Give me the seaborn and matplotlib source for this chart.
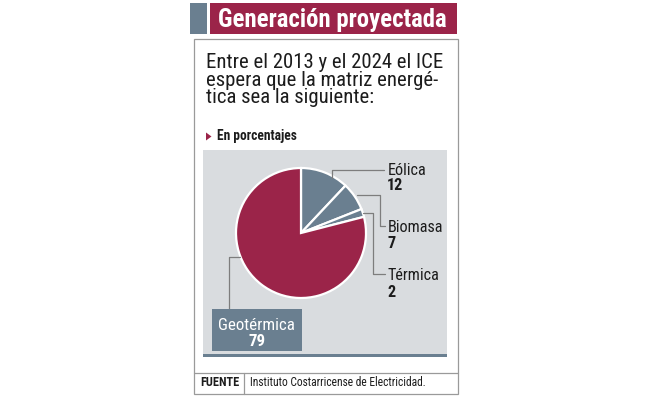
import matplotlib
matplotlib.use('Agg')
import matplotlib.pyplot as plt
import matplotlib.font_manager as fm
from matplotlib.patches import Rectangle, Polygon
import seaborn as sns

# datos del gráfico
categories = ['Eólica', 'Biomasa', 'Térmica', 'Geotérmica']
values = [12, 7, 2, 79]
title = 'Generación proyectada'
intro = ['Entre el 2013 y el 2024 el ICE',
         'espera que la matriz energé-',
         'tica sea la siguiente:']
unit_label = 'En porcentajes'
source_tag = 'FUENTE'
source = 'Instituto Costarricense de Electricidad.'

MAROON = '#9b2449'
SLATE = '#6a7f90'
PANEL = '#d9dcdf'
BORDER = '#9a9a9a'
LEADER = '#7d7d7d'
TEXT = '#1c1c1c'

sns.set_theme(style='white')
names = {f.name for f in fm.fontManager.ttflist}
narrow = next((n for n in ['Roboto Condensed', 'Liberation Sans Narrow', 'Roboto'] if n in names), 'DejaVu Sans')
plt.rcParams['font.family'] = [narrow, 'DejaVu Sans']

W, H = 653, 398
fig = plt.figure(figsize=(W / 100, H / 100), dpi=100)
ax = fig.add_axes([0, 0, 1, 1])
renderer = fig.canvas.get_renderer()


def Y(y):
    return H - y


def fit(t, width):
    w = t.get_window_extent(renderer).width
    t.set_fontsize(t.get_fontsize() * width / w)
    return t.get_fontsize()


# cabecera
ax.add_patch(Rectangle((190, Y(34)), 17, 31, color=SLATE, lw=0))
ax.add_patch(Rectangle((210, Y(34)), 247, 31, color=MAROON, lw=0))
t = ax.text(218, Y(27), title, color='white', fontweight='bold', fontsize=15, ha='left', va='baseline')
fit(t, 228)

# recuadro
ax.add_patch(Rectangle((194, Y(394)), 263.5, 355, fill=False, ec=BORDER, lw=0.9))
ax.plot([194, 457.5], [Y(373), Y(373)], color=BORDER, lw=0.9)
ax.plot([244, 244], [Y(373), Y(394)], color=BORDER, lw=0.9)

# texto de introducción
lines = []
for txt, base in zip(intro, [68, 85.7, 103.3]):
    lines.append(ax.text(206, Y(base), txt, color=TEXT, fontsize=13, ha='left', va='baseline'))
fs = fit(lines[0], 237)
for l in lines[1:]:
    l.set_fontsize(fs)

ax.add_patch(Polygon([(206, Y(132.5)), (206, Y(140.5)), (211.5, Y(136.5))], color=MAROON, lw=0))
t = ax.text(216.7, Y(140), unit_label, color=TEXT, fontweight='bold', fontsize=8, ha='left', va='baseline')
fit(t, 80)

# panel gris
ax.add_patch(Rectangle((203, Y(354)), 244, 204, color=PANEL, lw=0, zorder=0))
ax.add_patch(Rectangle((203, Y(357)), 244, 3, color=SLATE, lw=0, zorder=0))

# torta
colors = [SLATE, SLATE, SLATE, MAROON]
ax.pie(values, colors=colors, startangle=90, counterclock=False,
       center=(301, Y(233)), radius=65,
       wedgeprops=dict(edgecolor='white', linewidth=1.6))

# líneas guía
leaders = [
    [(331.7, 178), (331.7, 170), (383.5, 170)],
    [(356.7, 195), (380, 195), (380, 226), (385, 226)],
    [(363.3, 213.3), (372.7, 213.3), (372.7, 274.3), (385, 274.3)],
    [(240, 256.7), (229, 256.7), (229, 308.5)],
]
for pts in leaders:
    ax.plot([p[0] for p in pts], [Y(p[1]) for p in pts], color=LEADER, lw=0.9, zorder=3)

# etiquetas
name_base = [175, 231.7, 280]
num_base = [189.5, 248, 297]
lab = []
for cat, val, b1, b2 in zip(categories[:3], values[:3], name_base, num_base):
    lab.append(ax.text(387.3, Y(b1), cat, color=TEXT, fontsize=11, ha='left', va='baseline'))
    lab.append(ax.text(387.3, Y(b2), str(val), color=TEXT, fontsize=11, fontweight='bold',
                       ha='left', va='baseline'))
lfs = fit(lab[2], 55)
for l in lab:
    l.set_fontsize(lfs)

ax.add_patch(Rectangle((211.7, Y(351)), 90, 42.5, color=SLATE, lw=0, zorder=3))
t = ax.text(256.7, Y(330), categories[3], color='white', fontsize=lfs, ha='center', va='baseline', zorder=4)
fit(t, 77)
ax.text(256.7, Y(345.5), str(values[3]), color='white', fontsize=t.get_fontsize(), fontweight='bold',
        ha='center', va='baseline', zorder=4)

# fuente
t = ax.text(200, Y(386.5), source_tag, color=TEXT, fontweight='bold', fontsize=7.5, ha='left', va='baseline')
fit(t, 39)
t = ax.text(250, Y(386.5), source, color=TEXT, fontsize=7.5, ha='left', va='baseline')
fit(t, 177)

ax.set_xlim(0, W)
ax.set_ylim(0, H)
ax.set_aspect('auto')
ax.axis('off')

fig.savefig('out.png', dpi=100, facecolor='white')
